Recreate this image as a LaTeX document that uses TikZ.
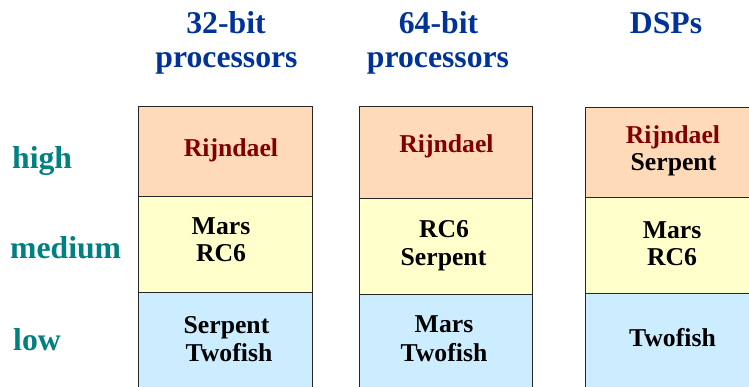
\documentclass[tikz,border=0pt]{standalone}
\usepackage{fontspec}
\setmainfont{Liberation Serif}
\definecolor{hiFill}{RGB}{255,218,185}
\definecolor{midFill}{RGB}{255,255,204}
\definecolor{loFill}{RGB}{204,236,255}
\definecolor{headBlue}{RGB}{0,51,153}
\definecolor{levelTeal}{RGB}{0,128,128}
\definecolor{topRed}{RGB}{128,0,0}
\tikzset{
  cell/.style={draw=black!85, line width=1pt},
  heading/.style={anchor=base, inner sep=0pt, text=headBlue, font=\fontsize{31.7}{32}\selectfont\bfseries},
  level/.style={anchor=base west, inner sep=0pt, text=levelTeal, font=\fontsize{31.7}{32}\selectfont\bfseries},
  algo/.style={anchor=base, inner sep=0pt, text=black, font=\fontsize{25.7}{27}\selectfont\bfseries},
  best/.style={algo, text=topRed}
}
\begin{document}
\begin{tikzpicture}[x=1pt,y=-1pt]
\useasboundingbox (0,0) rectangle (749,386);
\clip (0,0) rectangle (749,386);
\fill[white] (0,0) rectangle (749,386);

% column 1: 32-bit processors
\filldraw[cell, fill=hiFill]  (138,106) rectangle (312,196);
\filldraw[cell, fill=midFill] (138,196) rectangle (312,292);
\filldraw[cell, fill=loFill]  (138,292) rectangle (312,400);
% column 2: 64-bit processors
\filldraw[cell, fill=hiFill]  (359,106) rectangle (532,198);
\filldraw[cell, fill=midFill] (359,198) rectangle (532,294);
\filldraw[cell, fill=loFill]  (359,294) rectangle (532,400);
% column 3: DSPs
\filldraw[cell, fill=hiFill]  (585,107) rectangle (760,197);
\filldraw[cell, fill=midFill] (585,197) rectangle (760,293);
\filldraw[cell, fill=loFill]  (585,293) rectangle (760,400);

% column headings
\node[heading] (h1a) at (226,33) {32-bit};
\node[heading] (h1b) at (226.5,67) {processors};
\node[heading] (h2a) at (438.5,33) {64-bit};
\node[heading] (h2b) at (438,67) {processors};
\node[heading] (h3a) at (666,33) {DSPs};

% row labels
\node[level] (lhigh) at (12,168) {high};
\node[level] (lmed)  at (10,258) {medium};
\node[level] (llow)  at (13,350) {low};

% entries, column 1
\node[best] (c1h)  at (231,156) {Rijndael};
\node[algo] (c1m1) at (221,234) {Mars};
\node[algo] (c1m2) at (221,261) {RC6};
\node[algo] (c1l1) at (226.5,333) {Serpent};
\node[algo] (c1l2) at (229,361) {Twofish};
% entries, column 2
\node[best] (c2h)  at (446.5,152) {Rijndael};
\node[algo] (c2m1) at (444,237) {RC6};
\node[algo] (c2m2) at (443.5,265) {Serpent};
\node[algo] (c2l1) at (444,332) {Mars};
\node[algo] (c2l2) at (444,361) {Twofish};
% entries, column 3
\node[best] (c3h1) at (673,143) {Rijndael};
\node[algo] (c3h2) at (673.5,170) {Serpent};
\node[algo] (c3m1) at (672,238) {Mars};
\node[algo] (c3m2) at (672,265) {RC6};
\node[algo] (c3l)  at (672.5,346) {Twofish};
\end{tikzpicture}
\end{document}
